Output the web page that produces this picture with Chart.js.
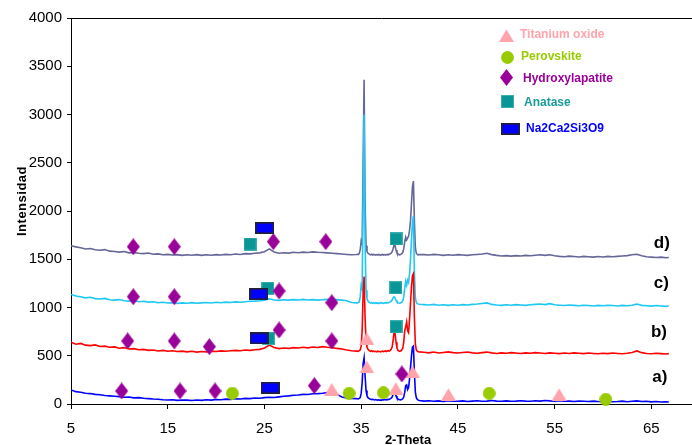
<!DOCTYPE html>
<html>
<head>
<meta charset="utf-8">
<script src="https://cdn.jsdelivr.net/npm/chart.js@4.4.1/dist/chart.umd.min.js"></script>
<style>
html,body{margin:0;padding:0;background:#fff;overflow:hidden;}
</style>
</head>
<body>
<canvas id="c" width="692" height="445"></canvas>
<script>
// ---------- DATA ----------
const twoTheta = [
 5,5.5,6,6.5,7,7.5,8,8.5,9,9.5,
 10,10.5,11,11.5,12,12.5,13,13.5,14,14.5,
 15,15.5,16,16.5,17,17.5,18,18.5,19,19.5,
 20,20.5,21,21.5,22,22.5,23,23.5,24,24.5,
 25,25.5,26,26.5,27,27.5,28,28.5,29,29.5,
 30,30.5,31,31.5,32,32.5,33,33.5,34,34.5,
 34.6,34.7,34.8,34.9,35.0,35.1,35.2,35.3,35.4,35.5,
 35.6,35.7,35.8,35.9,36.0,36.1,36.2,36.3,36.4,36.5,
 36.6,36.7,36.8,36.9,37.0,37.1,37.2,37.3,37.4,37.5,
 37.6,37.7,37.8,37.9,38.0,38.1,38.2,38.3,38.4,38.5,
 38.6,38.7,38.8,38.9,39.0,39.1,39.2,39.3,39.4,39.5,
 39.6,39.7,39.8,39.9,40.0,40.1,40.2,40.3,40.4,40.5,
 40.6,40.7,40.8,40.9,41.0,
 41.5,42,42.5,43,43.5,44,44.5,45,45.5,46,
 46.5,47,47.5,48,48.5,49,49.5,50,50.5,51,
 51.5,52,52.5,53,53.5,54,54.5,55,55.5,56,
 56.5,57,57.5,58,58.5,59,59.5,60,60.5,61,
 61.5,62,62.5,63,63.5,64,64.5,65,65.5,66,
 66.5,66.8
];

const seriesA = [
 145,128,122,112,108,100,96,88,84,80,
 76,70,72,64,66,60,56,52,50,44,
 42,44,38,42,40,36,42,38,44,40,
 46,44,50,48,54,52,58,56,62,60,
 66,70,68,74,80,84,90,94,100,98,
 106,108,112,118,126,100,72,62,58,56,
 55,52,58,66,110,220,420,480,300,140,
 85,66,58,52,50,46,48,44,42,46,
 42,40,44,40,42,40,44,42,46,44,
 42,48,46,50,54,60,72,100,128,118,
 84,62,52,46,44,42,48,56,72,120,
 190,198,150,170,260,380,500,590,600,330,
 120,66,48,40,36,
 30,34,28,32,26,34,30,28,32,26,
 30,34,28,30,36,30,28,32,28,30,
 34,30,28,34,30,36,32,30,34,28,
 30,26,30,28,26,30,26,24,28,24,
 26,30,24,28,32,26,28,22,26,20,
 22,20
];

const seriesB = [
 640,620,628,610,605,612,596,600,588,592,
 578,584,570,574,562,566,556,560,550,556,
 546,552,544,548,540,546,538,544,540,548,
 544,550,546,552,556,552,560,556,562,566,
 580,610,585,574,580,576,584,580,588,582,
 590,586,594,588,584,576,570,560,552,548,
 548,545,552,560,600,760,1150,1320,900,660,
 590,566,556,550,546,552,544,548,542,546,
 540,548,542,546,540,544,548,542,546,550,
 544,548,552,548,556,566,590,660,740,735,
 640,580,556,550,546,552,560,580,640,760,
 800,850,760,740,880,1050,1220,1330,1350,900,
 620,560,548,542,540,
 536,530,538,528,534,540,532,528,534,538,
 530,526,532,538,530,524,530,526,532,528,
 524,530,526,532,528,524,530,526,522,528,
 524,530,526,522,528,524,520,526,522,528,
 524,520,526,534,550,532,524,520,526,522,
 518,522
];

const seriesC = [
 1135,1120,1112,1100,1106,1092,1088,1094,1080,1076,
 1082,1070,1066,1072,1060,1064,1056,1060,1050,1054,
 1046,1050,1042,1048,1044,1050,1044,1048,1052,1046,
 1054,1050,1056,1052,1058,1054,1060,1064,1066,1070,
 1076,1090,1078,1074,1080,1076,1082,1078,1084,1078,
 1082,1076,1080,1084,1078,1082,1076,1070,1052,1048,
 1048,1052,1060,1110,1230,1200,2100,3000,1700,1180,
 1090,1066,1056,1050,1046,1052,1044,1048,1042,1050,
 1044,1048,1040,1046,1050,1044,1048,1042,1046,1050,
 1046,1052,1048,1054,1058,1066,1080,1100,1112,1100,
 1074,1058,1050,1046,1044,1048,1056,1070,1110,1200,
 1270,1230,1285,1260,1350,1500,1700,1880,1950,1350,
 1100,1050,1040,1036,1034,
 1030,1026,1032,1024,1028,1022,1028,1024,1030,1026,
 1032,1036,1042,1048,1032,1026,1022,1028,1024,1030,
 1026,1022,1028,1032,1036,1030,1040,1028,1024,1020,
 1026,1022,1018,1024,1020,1016,1022,1018,1024,1020,
 1016,1022,1018,1024,1036,1022,1018,1014,1020,1016,
 1012,1016
];

const seriesD = [
 1640,1628,1620,1606,1612,1598,1594,1600,1584,1580,
 1574,1580,1566,1570,1562,1558,1564,1552,1556,1546,
 1550,1544,1548,1540,1546,1542,1548,1540,1546,1542,
 1548,1544,1550,1546,1554,1550,1558,1556,1562,1566,
 1578,1608,1576,1562,1568,1564,1572,1568,1574,1570,
 1576,1572,1570,1566,1562,1558,1554,1550,1546,1550,
 1552,1548,1560,1600,1690,1660,2500,3360,2100,1640,
 1580,1562,1556,1550,1546,1552,1544,1550,1546,1542,
 1548,1544,1550,1546,1540,1546,1550,1544,1548,1542,
 1546,1550,1546,1552,1556,1562,1578,1610,1650,1640,
 1596,1566,1554,1548,1546,1550,1558,1572,1610,1680,
 1730,1700,1720,1740,1800,1900,2080,2250,2310,1900,
 1620,1562,1550,1546,1548,
 1548,1544,1550,1546,1540,1546,1542,1548,1544,1540,
 1546,1550,1554,1562,1548,1540,1534,1538,1532,1538,
 1534,1540,1536,1542,1546,1540,1546,1536,1530,1526,
 1532,1528,1524,1530,1526,1522,1528,1524,1530,1526,
 1530,1534,1538,1546,1552,1536,1526,1522,1518,1522,
 1516,1518
];

const seriesNames = ['a)', 'b)', 'c)', 'd)'];

// phase markers: [2-theta, intensity]
const titaniumOxide = [[35.58,681],[35.58,387],[31.96,155],[38.58,163],[40.33,335],[44.02,100],[55.46,100]];
const perovskite = [[21.68,111],[33.75,111],[37.3,117],[48.23,111],[60.29,49]];
const hydroxylapatite = [
 [11.44,1630],[15.68,1630],[25.92,1682],[31.34,1682],
 [11.44,1112],[15.68,1112],[26.51,1171],[31.96,1050],
 [10.86,653],[15.68,653],[19.3,594],[26.51,767],[31.96,653],
 [10.24,135],[16.27,135],[19.89,135],[30.16,190],[39.2,311]
];
const anatase = [[23.51,1658],[38.61,1710],[25.34,1199],[38.58,1205],[25.4,681],[38.61,801]];
const na2ca2si3o9 = [[25.03,1824],[24.41,1140],[24.44,681],[25.61,169]];

const phaseNames = ['Titanium oxide', 'Perovskite', 'Hydroxylapatite', 'Anatase', 'Na2Ca2Si3O9'];

const xTicks = [5, 15, 25, 35, 45, 55, 65];
const yTicks = [0, 500, 1000, 1500, 2000, 2500, 3000, 3500, 4000];

// ---------- SHAPES ----------
function shape(kind) {
  const c = document.createElement('canvas');
  let w, h;
  if (kind === 'tri') { w = 15; h = 13; }
  else if (kind === 'circ') { w = 13; h = 13; }
  else if (kind === 'dia') { w = 13; h = 17; }
  else if (kind === 'sq') { w = 13; h = 13; }
  else { w = 19; h = 12; }
  c.width = w; c.height = h;
  const g = c.getContext('2d');
  if (kind === 'tri') {
    g.fillStyle = '#FFA3AC';
    g.beginPath(); g.moveTo(0, h); g.lineTo(w / 2, 0.5); g.lineTo(w, h); g.closePath(); g.fill();
  } else if (kind === 'circ') {
    g.fillStyle = '#99CC00';
    g.beginPath(); g.arc(w / 2, h / 2, 6.4, 0, Math.PI * 2); g.fill();
  } else if (kind === 'dia') {
    g.fillStyle = '#990099';
    g.beginPath(); g.moveTo(w / 2, 0); g.lineTo(w, h / 2); g.lineTo(w / 2, h); g.lineTo(0, h / 2); g.closePath(); g.fill();
  } else if (kind === 'sq') {
    g.fillStyle = '#0A9696';
    g.fillRect(0, 0, w, h);
    g.strokeStyle = '#3BAEAE'; g.lineWidth = 1; g.strokeRect(0.5, 0.5, w - 1, h - 1);
  } else {
    g.fillStyle = '#0000FF';
    g.fillRect(0, 0, w, h);
    g.strokeStyle = '#222233'; g.lineWidth = 1.6; g.strokeRect(0.8, 0.8, w - 1.6, h - 1.6);
  }
  return c;
}
const shapes = { tri: shape('tri'), circ: shape('circ'), dia: shape('dia'), sq: shape('sq'), rect: shape('rect') };

function pts(xs, ys) { return xs.map((x, i) => ({ x: x, y: ys[i] })); }
function pairs(arr) { return arr.map(p => ({ x: p[0], y: p[1] })); }

function lineDs(label, ys, color, order) {
  return { label, data: pts(twoTheta, ys), showLine: true, borderColor: color, backgroundColor: color,
           borderWidth: 1.6, pointRadius: 0, pointHoverRadius: 0, tension: 0, order };
}
function markDs(label, arr, img, order) {
  return { label, data: pairs(arr), showLine: false, pointStyle: img, pointRadius: 6, pointHoverRadius: 6,
           order, clip: false };
}

const TICK_FONT = { family: "'Liberation Sans',Arial,sans-serif", size: 15 };

// stretch the plot area to the canvas' right edge (the original plot continues past the crop)
const stretch = {
  id: 'stretch',
  afterLayout(chart) {
    const xs = chart.scales.x;
    const r = chart.width;
    chart.chartArea.right = r;
    chart.chartArea.width = r - chart.chartArea.left;
    xs.right = r;
    xs.width = r - xs.left;
    xs.configure();
    xs._gridLineItems = null;
    xs._labelItems = null;
  }
};

const overlay = {
  id: 'overlay',
  afterDraw(chart) {
    const ctx = chart.ctx;
    const a = chart.chartArea;
    const xs = chart.scales.x, ys = chart.scales.y;
    ctx.save();
    // top border
    ctx.strokeStyle = '#000'; ctx.lineWidth = 1;
    ctx.beginPath(); ctx.moveTo(a.left, Math.round(a.top) + 0.5); ctx.lineTo(a.right, Math.round(a.top) + 0.5); ctx.stroke();

    // legend
    const leg = [
      { img: shapes.tri, mx: 506, my: 35, tx: 520, ty: 35, color: '#FFA3AC' },
      { img: shapes.circ, mx: 507, my: 57, tx: 521, ty: 57, color: '#99CC00' },
      { img: shapes.dia, mx: 506, my: 77, tx: 523, ty: 79, color: '#990099' },
      { img: shapes.sq, mx: 507, my: 101, tx: 524, ty: 103, color: '#1A9A9A' },
      { img: shapes.rect, mx: 510, my: 128.5, tx: 526, ty: 129, color: '#0000FF' }
    ];
    ctx.font = "bold 12px 'Liberation Sans', Arial, sans-serif";
    ctx.textBaseline = 'middle'; ctx.textAlign = 'left';
    leg.forEach((l, i) => {
      ctx.drawImage(l.img, Math.round(l.mx - l.img.width / 2), Math.round(l.my - l.img.height / 2));
      ctx.fillStyle = l.color;
      ctx.fillText(phaseNames[i], l.tx, l.ty);
    });

    // series labels
    const lab = [[65.1, 280], [64.95, 746], [65.25, 1254], [65.25, 1668]];
    ctx.font = "bold 17px 'Liberation Sans', Arial, sans-serif";
    ctx.fillStyle = '#000';
    seriesNames.forEach((n, i) => {
      ctx.fillText(n, xs.getPixelForValue(lab[i][0]), ys.getPixelForValue(lab[i][1]));
    });

    // axis titles
    ctx.font = "bold 13px 'Liberation Sans', Arial, sans-serif";
    ctx.textAlign = 'center'; ctx.textBaseline = 'alphabetic';
    ctx.fillText('2-Theta', 408, 444);
    ctx.translate(26, 201);
    ctx.rotate(-Math.PI / 2);
    if ('letterSpacing' in ctx) ctx.letterSpacing = '0.5px';
    ctx.fillText('Intensidad', 0, 0);
    ctx.restore();
  }
};

new Chart(document.getElementById('c'), {
  type: 'scatter',
  data: {
    datasets: [
      lineDs(seriesNames[0], seriesA, '#0000FF', 1),
      lineDs(seriesNames[1], seriesB, '#FF0000', 2),
      lineDs(seriesNames[2], seriesC, '#1EC8F5', 3),
      lineDs(seriesNames[3], seriesD, '#666699', 4),
      markDs(phaseNames[0], titaniumOxide, shapes.tri, -1),
      markDs(phaseNames[1], perovskite, shapes.circ, -2),
      markDs(phaseNames[3], anatase, shapes.sq, -3),
      markDs(phaseNames[2], hydroxylapatite, shapes.dia, -4),
      markDs(phaseNames[4], na2ca2si3o9, shapes.rect, -5)
    ]
  },
  options: {
    responsive: false,
    animation: false,
    events: [],
    layout: { padding: { top: 18, right: 0, left: 0, bottom: 0 } },
    plugins: { legend: { display: false }, tooltip: { enabled: false } },
    scales: {
      x: {
        type: 'linear', min: 5, max: 69.2,
        afterBuildTicks: s => { s.ticks = xTicks.map(v => ({ value: v })); },
        afterFit: s => { s.height = 41; s.paddingLeft = 0; s.paddingRight = 0; },
        ticks: { autoSkip: false, maxRotation: 0, color: '#000', font: TICK_FONT, padding: 11,
                 callback: v => String(v) },
        grid: { display: true, drawOnChartArea: false, drawTicks: true, tickLength: 5, color: '#000', lineWidth: 1 },
        border: { display: true, color: '#000', width: 1 }
      },
      y: {
        type: 'linear', min: 0, max: 4000,
        afterBuildTicks: s => { s.ticks = yTicks.map(v => ({ value: v })); },
        afterFit: s => { s.width = 71; s.paddingTop = 0; s.paddingBottom = 0; },
        ticks: { color: '#000', font: TICK_FONT, padding: 5, callback: v => String(v) },
        grid: { display: true, drawOnChartArea: false, drawTicks: true, tickLength: 4, color: '#000', lineWidth: 1 },
        border: { display: true, color: '#000', width: 1 }
      }
    }
  },
  plugins: [stretch, overlay]
});
</script>
</body>
</html>
